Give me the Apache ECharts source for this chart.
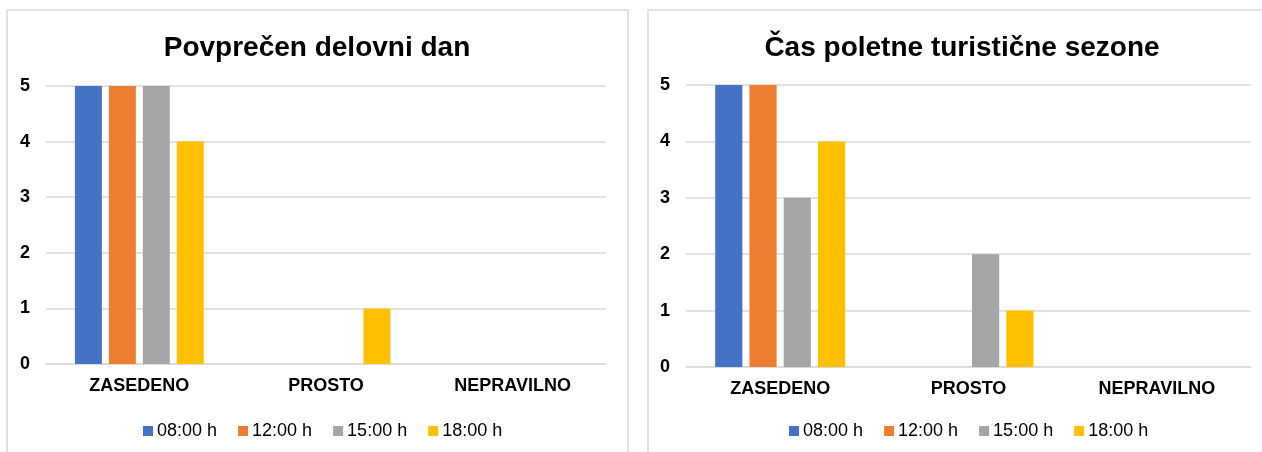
<!DOCTYPE html>
<html>
<head>
<meta charset="utf-8">
<script src="https://cdn.jsdelivr.net/npm/echarts@6/dist/echarts.min.js"></script>
<style>
html,body{margin:0;padding:0;background:#fff;}
#c{width:1262px;height:452px;}
</style>
</head>
<body>
<div id="c"></div>
<script>
const categories = ['ZASEDENO', 'PROSTO', 'NEPRAVILNO'];
const seriesNames = ['08:00 h', '12:00 h', '15:00 h', '18:00 h'];
const colors = ['#4472C4', '#ED7D31', '#A5A5A5', '#FFC000'];
const yTicks = [0, 1, 2, 3, 4, 5];
const titleLeft = 'Povprečen delovni dan';
const titleRight = 'Čas poletne turistične sezone';
// left chart values per series
const left0800 = [5, 0, 0];
const left1200 = [5, 0, 0];
const left1500 = [5, 0, 0];
const left1800 = [4, 1, 0];
// right chart values per series
const right0800 = [5, 0, 0];
const right1200 = [5, 0, 0];
const right1500 = [3, 2, 0];
const right1800 = [4, 1, 0];

const leftData = [left0800, left1200, left1500, left1800];
const rightData = [right0800, right1200, right1500, right1800];

const FONT = '"Liberation Sans", Arial, sans-serif';
const gridColor = '#D9D9D9';

function xAxis(gi) {
  return {
    type: 'category', gridIndex: gi, data: categories,
    axisLine: { show: true, lineStyle: { color: gridColor, width: 1.5 } },
    axisTick: { show: false },
    axisLabel: { color: '#000', fontFamily: FONT, fontWeight: 'bold', fontSize: 18, margin: 13 }
  };
}
function yAxis(gi) {
  return {
    type: 'value', gridIndex: gi, min: yTicks[0], max: yTicks[yTicks.length - 1], interval: 1,
    axisLine: { show: false }, axisTick: { show: false },
    splitLine: { lineStyle: { color: gridColor, width: 1.5 } },
    axisLabel: { color: '#000', fontFamily: FONT, fontWeight: 'bold', fontSize: 18, margin: 16 }
  };
}

const series = [];
seriesNames.forEach((n, i) => {
  series.push({
    name: n, type: 'bar', xAxisIndex: 0, yAxisIndex: 0, data: leftData[i],
    itemStyle: { color: colors[i] }, barGap: '26%', barCategoryGap: '31%'
  });
});
seriesNames.forEach((n, i) => {
  series.push({
    name: n, type: 'bar', xAxisIndex: 1, yAxisIndex: 1, data: rightData[i],
    itemStyle: { color: colors[i] }, barGap: '26%', barCategoryGap: '31%'
  });
});

const legendCommon = {
  data: seriesNames, icon: 'rect', itemWidth: 10, itemHeight: 10, itemGap: 21,
  textStyle: { color: '#000', fontFamily: FONT, fontSize: 18, padding: [0, 0, 0, -1] },
  selectedMode: false
};

const chart = echarts.init(document.getElementById('c'), null, { renderer: 'canvas' });
chart.setOption({
  backgroundColor: '#fff',
  animation: false,
  color: colors,
  title: [
    { text: titleLeft, left: 312, top: 29, textAlign: 'center',
      textStyle: { fontFamily: FONT, fontWeight: 'bold', fontSize: 28, color: '#000' } },
    { text: titleRight, left: 957, top: 29, textAlign: 'center',
      textStyle: { fontFamily: FONT, fontWeight: 'bold', fontSize: 28, color: '#000' } }
  ],
  legend: [
    Object.assign({ left: 138, top: 417 }, legendCommon),
    Object.assign({ left: 784, top: 417 }, legendCommon)
  ],
  grid: [
    { left: 46, right: 656, top: 86, bottom: 88, containLabel: false },
    { left: 686, right: 11, top: 85, bottom: 85, containLabel: false }
  ],
  xAxis: [xAxis(0), xAxis(1)],
  yAxis: [yAxis(0), yAxis(1)],
  series: series,
  graphic: [
    { type: 'rect', shape: { x: 7, y: 10, width: 621, height: 460 }, style: { fill: 'none', stroke: gridColor, lineWidth: 1.5 }, z: -10, silent: true },
    { type: 'rect', shape: { x: 648, y: 10, width: 640, height: 460 }, style: { fill: 'none', stroke: gridColor, lineWidth: 1.5 }, z: -10, silent: true }
  ]
});
</script>
</body>
</html>
